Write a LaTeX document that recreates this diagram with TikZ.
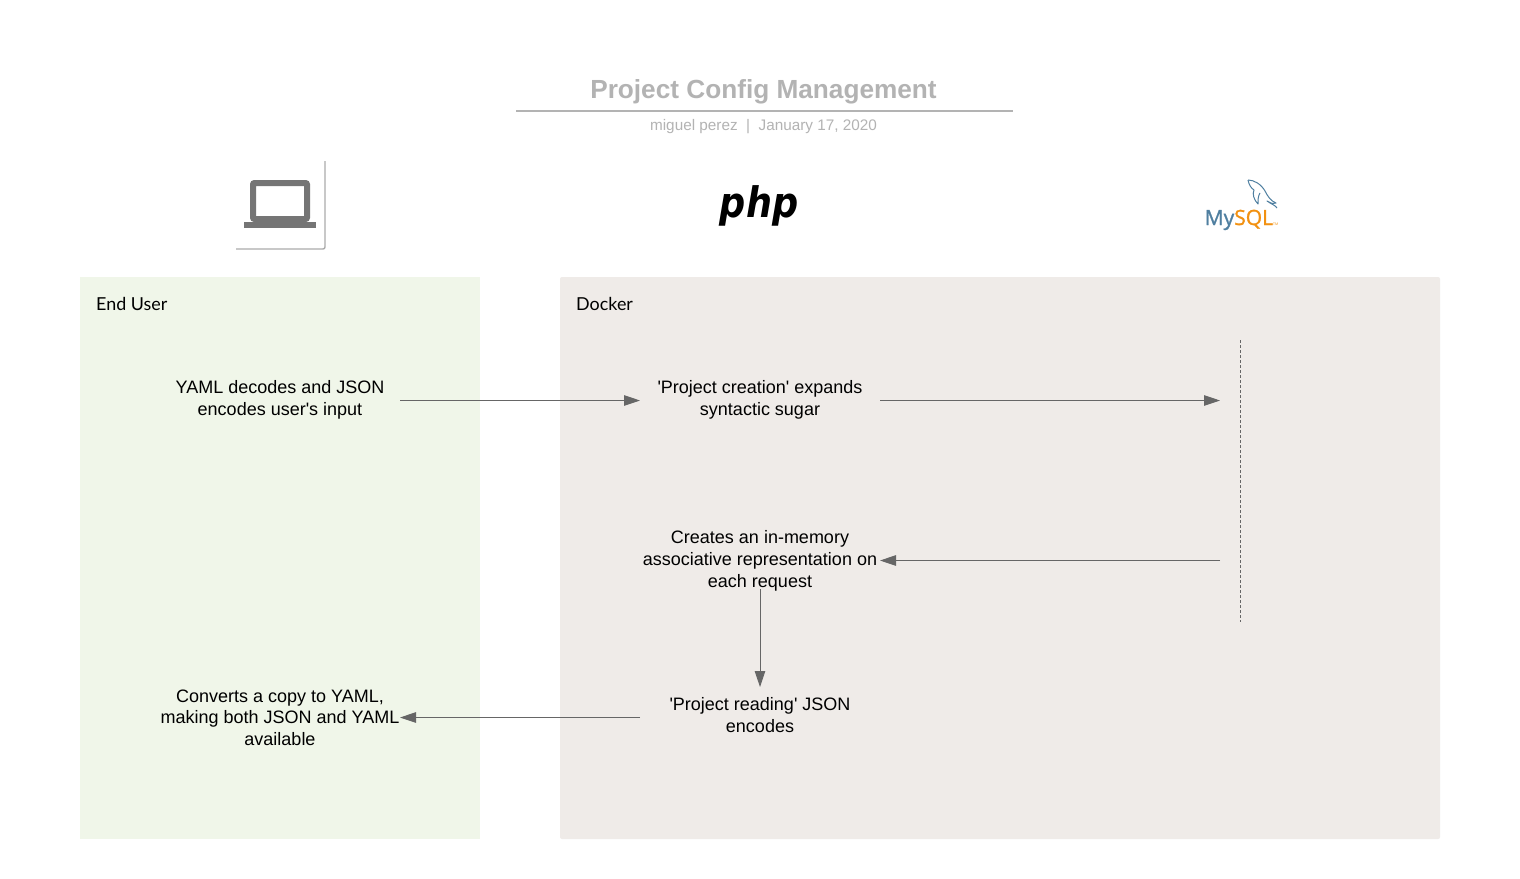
\documentclass[tikz,border=0pt]{standalone}
\usepackage{fontspec}
\setmainfont{Liberation Sans}
\newfontfamily\bodyfont{Liberation Sans}
\newfontfamily\lanefont{Lato}
\newfontfamily\phpfont{DejaVu Sans}
\newfontfamily\myfont[RawFeature={embolden=1.2}]{Open Sans}
\newfontfamily\tmfont{Open Sans}
\usetikzlibrary{arrows.meta}
\definecolor{lanegreen}{HTML}{F0F6E9}
\definecolor{lanegray}{HTML}{EFEBE8}
\definecolor{titlegray}{HTML}{B3B3B3}
\definecolor{linegray}{HTML}{666666}
\definecolor{iconframe}{HTML}{ABABAB}
\definecolor{icongray}{HTML}{757575}
\definecolor{myblue}{HTML}{4F7FA0}
\definecolor{myorange}{HTML}{F29111}
\tikzset{
  lanelabel/.style={anchor=west,inner sep=0pt,font=\lanefont\fontsize{17.9}{22}\selectfont},
  msg/.style={inner sep=0pt,outer sep=0pt,minimum width=240,minimum height=60,align=center,font=\bodyfont\fontsize{18}{21.7}\selectfont},
  flow/.style={draw=linegray,line width=0.9pt,-{Triangle[length=16pt,width=10.5pt,fill=linegray]}}
}
\begin{document}
\begin{tikzpicture}[x=1pt,y=-1pt]
\useasboundingbox (0,0) rectangle (1520,878);
\fill[white] (0,0) rectangle (1520,878);
% lanes
\fill[lanegreen] (80,277) rectangle (480,839);
\fill[lanegray,rounded corners=2pt] (560,277) rectangle (1440,839);
\node[lanelabel] (endlabel) at (96,303.5) {End User};
\node[lanelabel] (dockerlabel) at (576,303.5) {Docker};
% title
\node[inner sep=0pt,text=titlegray,font=\bfseries\fontsize{26.2}{30}\selectfont] (title) at (763.5,92) {Project Config Management};
\draw[titlegray,line width=2pt] (516,110.5) -- (1013,110.5);
\node[inner sep=0pt,text=titlegray,font=\fontsize{15.3}{18}\selectfont] (sub) at (763.5,127) {miguel perez\ \ |\ \ January 17, 2020};
% laptop icon
\draw[iconframe,line width=1.4pt,rounded corners=2pt] (236,249) -- (325,249) -- (325,161);
\fill[icongray,even odd rule] [rounded corners=4pt] (250,180) rectangle (310,222) [sharp corners] (256,186) rectangle (304,216);
\fill[icongray] (244,222) rectangle (316,228);
% php logo
\node[inner sep=0pt,anchor=base,font=\phpfont\bfseries\itshape\fontsize{42}{42}\selectfont] (php) at (759,217) {\scalebox{.87}[1]{php}};
% MySQL logo
\node[inner sep=0pt,anchor=base west,font=\myfont\fontsize{21}{24}\selectfont] (mysql) at (1204.5,225) {\textcolor{myblue}{My}\textcolor{myorange}{SQL}};
\node[inner sep=0pt,anchor=base west,text=myorange,font=\tmfont\fontsize{3.5}{4}\selectfont] (tm) at (1273,225) {TM};
\draw[myblue,line width=1pt,line join=round]
  (1248,180) .. controls (1254,180) and (1261,184) .. (1265,191)
  .. controls (1268,197) and (1271,201) .. (1276,203)
  .. controls (1272,204) and (1270,203) .. (1267,201)
  .. controls (1271,204) and (1275,205) .. (1277,208);
\draw[myblue,line width=1pt,line join=round]
  (1248,180) .. controls (1249,185) and (1251,188) .. (1254,190)
  .. controls (1252,194) and (1254,200) .. (1258,204)
  .. controls (1258,200) and (1258,196) .. (1260,193);
% messages
\node[msg] (a) at (280,399.5) {YAML decodes and JSON\\encodes user's input};
\node[msg] (b) at (760,399.5) {'Project creation' expands\\syntactic sugar};
\node[msg,minimum height=56,outer ysep=-2pt] (c) at (760,561) {Creates an in-memory\\associative representation on\\each request};
\node[msg,minimum height=56] (d) at (760,715) {'Project reading' JSON\\encodes};
\node[msg] (e) at (280,717.5) {Converts a copy to YAML,\\making both JSON and YAML\\available};
\coordinate (dbin) at (1220,400.5);
\coordinate (dbout) at (1220,560.5);
\coordinate (lifetop) at (1240.5,340);
\coordinate (lifebot) at (1240.5,622);
\draw[linegray,line width=0.9pt,dash pattern=on 3pt off 2pt] (lifetop) -- (lifebot);
% connectors
\draw[flow] (a.east |- 0,400.5) -- (b.west |- 0,400.5);
\draw[flow] (b.east |- 0,400.5) -- (dbin);
\draw[flow] (dbout) -- (c.east |- dbout);
\draw[flow] (c.south) -- (d.north);
\draw[flow] (d.west |- 0,717.5) -- (e.east |- 0,717.5);
\end{tikzpicture}
\end{document}
